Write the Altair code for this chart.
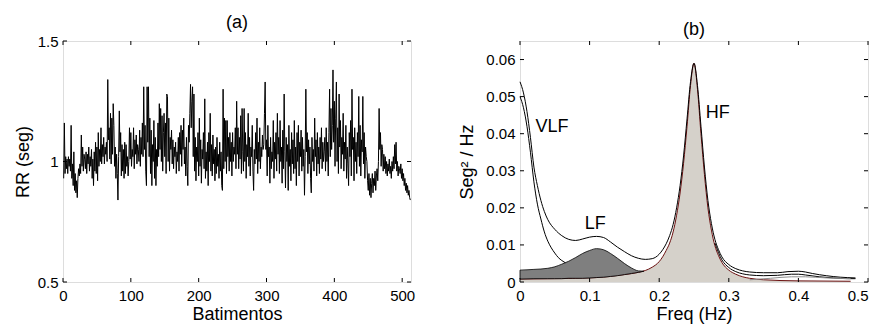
import altair as alt
import pandas as pd

FONT = "Liberation Sans"

# ---------------- panel (a): RR series ----------------
rr = [
    0.93, 1.16, 0.95, 1.02, 0.97, 1.01, 0.95, 1.02, 0.98, 1.01, 0.96, 1.15, 0.93, 0.99, 0.90, 1.04,
    0.88, 0.95, 0.87, 0.92, 0.85, 0.93, 0.97, 0.94, 0.99, 0.95, 1.11, 0.98, 1.06, 0.96, 1.03, 1.01,
    0.97, 1.04, 0.95, 1.03, 0.99, 1.06, 0.96, 1.02, 0.98, 1.05, 0.93, 1.01, 0.90, 1.04, 0.96, 1.08,
    0.95, 1.06, 0.92, 1.12, 0.98, 1.05, 1.00, 1.14, 0.99, 1.07, 1.02, 1.10, 0.99, 1.06, 1.03, 1.08,
    1.00, 1.34, 1.09, 1.14, 1.01, 1.20, 0.99, 1.18, 1.03, 1.24, 1.15, 0.98, 1.06, 0.93, 1.03, 0.95,
    0.84, 1.02, 1.21, 1.04, 1.12, 0.94, 1.07, 0.96, 1.05, 0.93, 1.08, 0.95, 1.07, 0.98, 1.02, 0.94,
    1.00, 1.14, 1.01, 1.12, 0.98, 1.05, 1.02, 1.14, 0.97, 1.09, 1.03, 1.11, 0.99, 1.07, 1.05, 1.00,
    1.13, 0.98, 1.10, 1.03, 1.16, 1.02, 1.31, 1.05, 1.15, 0.96, 0.90, 1.31, 1.08, 1.31, 1.02, 1.18,
    0.95, 1.13, 0.90, 1.07, 1.00, 1.17, 0.93, 1.10, 0.90, 1.05, 0.98, 1.16, 1.02, 1.24, 1.05, 1.22,
    1.00, 1.19, 0.96, 1.12, 1.20, 1.02, 1.16, 0.95, 1.28, 1.27, 1.00, 1.18, 0.96, 1.10, 1.05, 1.13,
    0.99, 1.09, 0.97, 1.06, 1.02, 1.08, 0.95, 1.04, 1.00, 1.10, 0.96, 1.12, 1.03, 1.15, 0.98, 1.13,
    1.05, 1.18, 0.99, 1.06, 0.94, 1.10, 0.98, 0.90, 1.15, 1.08, 1.20, 1.32, 1.14, 1.25, 1.31, 1.02,
    1.28, 0.96, 1.10, 0.92, 1.06, 1.00, 1.12, 0.94, 1.18, 0.98, 1.09, 0.91, 1.05, 1.01, 1.12, 0.97,
    1.26, 0.93, 1.04, 0.96, 1.08, 0.90, 1.12, 1.00, 1.20, 0.96, 1.07, 0.94, 1.11, 0.99, 1.05, 0.92,
    1.06, 0.95, 1.10, 0.98, 1.03, 0.93, 1.08, 0.96, 1.04, 0.90, 0.88, 1.30, 0.97, 1.18, 1.00, 1.17,
    0.95, 1.17, 1.02, 1.10, 0.96, 1.12, 1.00, 1.08, 0.94, 1.12, 1.00, 1.06, 1.03, 1.14, 0.97, 1.25,
    1.03, 1.14, 0.97, 1.10, 1.01, 1.19, 0.95, 1.22, 1.04, 0.96, 1.22, 1.00, 1.12, 0.93, 1.07, 1.02,
    1.20, 0.98, 1.10, 0.94, 1.06, 1.02, 1.15, 0.96, 0.88, 1.05, 0.99, 1.12, 1.01, 1.18, 0.95, 1.08,
    1.00, 1.14, 0.97, 1.06, 1.02, 1.11, 1.05, 1.07, 1.20, 1.33, 1.05, 1.09, 0.94, 1.15, 1.02, 1.06,
    0.91, 1.10, 0.97, 1.04, 1.00, 1.17, 0.93, 1.08, 1.01, 1.12, 0.96, 1.20, 1.03, 1.10, 0.95, 1.17,
    1.00, 1.06, 0.91, 1.13, 0.97, 1.28, 1.04, 0.89, 1.10, 1.00, 1.07, 0.88, 1.15, 0.98, 1.05, 0.92,
    1.12, 0.99, 1.09, 0.95, 1.17, 0.97, 1.06, 0.90, 1.12, 1.00, 1.15, 0.94, 1.08, 1.02, 1.13, 0.96,
    1.10, 0.98, 1.05, 0.86, 1.02, 1.30, 1.04, 1.12, 0.95, 1.09, 0.99, 1.06, 0.93, 0.87, 1.10, 1.00,
    1.05, 0.96, 1.18, 1.02, 1.09, 0.94, 1.12, 0.99, 1.06, 0.95, 1.10, 1.01, 1.14, 0.97, 1.08, 1.00,
    1.04, 1.10, 0.96, 1.14, 1.00, 1.08, 0.94, 1.12, 1.30, 1.02, 1.22, 1.05, 1.15, 1.38, 1.08, 1.25,
    0.98, 1.18, 1.33, 1.00, 1.14, 0.95, 1.28, 1.06, 1.17, 0.97, 1.10, 1.03, 1.20, 0.96, 1.08, 1.01,
    1.15, 0.93, 1.06, 0.99, 0.90, 1.12, 1.02, 1.17, 0.94, 1.30, 1.05, 1.10, 0.92, 1.14, 1.00, 1.08,
    0.95, 1.12, 1.02, 1.27, 0.98, 1.15, 0.94, 1.09, 1.04, 1.27, 0.99, 1.12, 0.93, 1.06, 1.02, 1.00,
    0.92, 0.88, 0.95, 0.86, 0.93, 0.85, 0.91, 0.95, 0.87, 0.93, 0.90, 0.96, 0.88, 0.94, 0.97, 0.92,
    1.00, 1.22, 1.05, 1.12, 0.98, 1.07, 1.05, 0.96, 1.03, 0.97, 1.02, 0.95, 1.00, 0.94, 0.99, 0.96,
    1.01, 0.95, 0.98, 0.93, 1.00, 0.96, 1.02, 0.97, 1.07, 0.99, 1.08, 0.96, 1.00, 0.94, 0.98, 0.97,
    0.95, 0.99, 0.93, 0.97, 0.92, 0.95, 0.90, 0.93, 0.88, 0.91, 0.87, 0.90, 0.86, 0.88, 0.85, 0.84,
]
beats = list(range(1, len(rr) + 1))
xticks_a = [0, 100, 200, 300, 400, 500]
yticks_a = [0.5, 1, 1.5]

# ---------------- panel (b): PSD ----------------
f_total = [0.000, 0.005, 0.010, 0.015, 0.020, 0.025, 0.030, 0.035, 0.040, 0.050, 0.060, 0.070,
           0.080, 0.090, 0.100, 0.110, 0.120, 0.130, 0.140, 0.150, 0.160, 0.170, 0.180, 0.190,
           0.200, 0.205, 0.210, 0.215, 0.220, 0.225, 0.230, 0.235, 0.240, 0.245, 0.250, 0.255,
           0.260, 0.265, 0.270, 0.275, 0.280, 0.285, 0.290, 0.300, 0.310, 0.320, 0.330, 0.350,
           0.370, 0.385, 0.400, 0.410, 0.420, 0.440, 0.460, 0.482]
p_total = [0.0540, 0.0510, 0.0460, 0.0390, 0.0310, 0.0260, 0.0220, 0.0190, 0.0168, 0.0142, 0.0125, 0.0115,
           0.0112, 0.0116, 0.0121, 0.0123, 0.0120, 0.0108, 0.0094, 0.0082, 0.0071, 0.0064, 0.0061, 0.0063,
           0.0075, 0.0087, 0.0103, 0.0125, 0.0155, 0.0200, 0.0260, 0.0340, 0.0440, 0.0540, 0.0590, 0.0530,
           0.0420, 0.0310, 0.0220, 0.0158, 0.0115, 0.0088, 0.0068, 0.0047, 0.0036, 0.0030, 0.0027, 0.0025,
           0.0025, 0.0028, 0.0029, 0.0027, 0.0023, 0.0017, 0.0013, 0.0011]

f_vlf = [0.000, 0.005, 0.010, 0.015, 0.020, 0.025, 0.030, 0.035, 0.040, 0.045, 0.050, 0.055, 0.060, 0.065]
p_vlf = [0.0500, 0.0470, 0.0420, 0.0350, 0.0270, 0.0210, 0.0170, 0.0135, 0.0110, 0.0092, 0.0078, 0.0066, 0.0058, 0.0052]

f_lf = [0.000, 0.020, 0.040, 0.050, 0.060, 0.070, 0.080, 0.090, 0.100, 0.110, 0.120, 0.130,
        0.140, 0.150, 0.160, 0.170, 0.178]
p_lf_top = [0.0032, 0.0034, 0.0037, 0.0041, 0.0048, 0.0056, 0.0066, 0.0077, 0.0085, 0.0090, 0.0087, 0.0077,
            0.0064, 0.0050, 0.0038, 0.0030, 0.0029]
p_lf_bottom = [0.0008, 0.0009, 0.0009, 0.0009, 0.0009, 0.0010, 0.0010, 0.0010, 0.0011, 0.0012, 0.0013, 0.0015,
               0.0017, 0.0020, 0.0023, 0.0026, 0.0029]

f_hf = [0.000, 0.050, 0.100, 0.130, 0.150, 0.170, 0.180, 0.190, 0.200, 0.205, 0.210, 0.215,
        0.220, 0.225, 0.230, 0.235, 0.240, 0.245, 0.250, 0.255, 0.260, 0.265, 0.270, 0.275,
        0.280, 0.285, 0.290, 0.300, 0.310, 0.320, 0.330, 0.350, 0.400, 0.475]
p_hf = [0.0008, 0.0009, 0.0011, 0.0015, 0.0020, 0.0026, 0.0031, 0.0040, 0.0055, 0.0068, 0.0085, 0.0105,
        0.0135, 0.0180, 0.0240, 0.0320, 0.0420, 0.0530, 0.0590, 0.0520, 0.0400, 0.0290, 0.0200, 0.0140,
        0.0098, 0.0072, 0.0053, 0.0032, 0.0021, 0.0014, 0.0010, 0.0006, 0.0003, 0.0002]

f_second = [0.280, 0.290, 0.300, 0.310, 0.320, 0.330, 0.350, 0.370, 0.390, 0.400, 0.410, 0.430, 0.450, 0.470, 0.482]
p_second = [0.0105, 0.0060, 0.0039, 0.0028, 0.0022, 0.0019, 0.0017, 0.0018, 0.0021, 0.0021, 0.0019, 0.0014, 0.0011, 0.0009, 0.0009]

f_gray = [0.330, 0.360, 0.390, 0.410, 0.440, 0.475]
p_gray = [0.0006, 0.0010, 0.0014, 0.0014, 0.0011, 0.0009]

band_labels = ["VLF", "LF", "HF"]
band_label_f = [0.046, 0.108, 0.284]
band_label_p = [0.0417, 0.0157, 0.0456]

xticks_b = [0, 0.1, 0.2, 0.3, 0.4, 0.5]
yticks_b = [0, 0.01, 0.02, 0.03, 0.04, 0.05, 0.06]

W, H = 348, 241
TL = 4  # inward tick length


def axis(title, values, **kw):
    return alt.Axis(title=title, values=values, ticks=False, domain=False, grid=False,
                    format="~r", labelFontSize=15, titleFontSize=18, labelColor="black",
                    titleColor="black", labelFont=FONT, titleFont=FONT, titleFontWeight="normal",
                    labelFlush=False, labelOverlap=False, **kw)


def inward_ticks(xvals, yvals, xfield, yfield, xs, ys):
    dx = pd.DataFrame({xfield: xvals})
    dy = pd.DataFrame({yfield: yvals})
    bottom = alt.Chart(dx).mark_rule(color="black", strokeWidth=1).encode(
        x=alt.X(f"{xfield}:Q", scale=xs), y=alt.value(H), y2=alt.value(H - TL))
    top = alt.Chart(dx).mark_rule(color="black", strokeWidth=1).encode(
        x=alt.X(f"{xfield}:Q", scale=xs), y=alt.value(0), y2=alt.value(TL))
    left = alt.Chart(dy).mark_rule(color="black", strokeWidth=1).encode(
        y=alt.Y(f"{yfield}:Q", scale=ys), x=alt.value(0), x2=alt.value(TL))
    right = alt.Chart(dy).mark_rule(color="black", strokeWidth=1).encode(
        y=alt.Y(f"{yfield}:Q", scale=ys), x=alt.value(W), x2=alt.value(W - TL))
    return [bottom, top, left, right]


# ----- panel (a)
xs_a = alt.Scale(domain=[0, 513], nice=False, zero=False)
ys_a = alt.Scale(domain=[0.5, 1.5], nice=False, zero=False)
df_rr = pd.DataFrame({"beat": beats, "rr": rr})
line_a = alt.Chart(df_rr).mark_line(color="black", strokeWidth=1, clip=True).encode(
    x=alt.X("beat:Q", scale=xs_a, axis=axis("Batimentos", xticks_a, labelPadding=6, titlePadding=2)),
    y=alt.Y("rr:Q", scale=ys_a, axis=axis("RR (seg)", yticks_a, labelPadding=5, titlePadding=5)),
)
panel_a = alt.layer(line_a, *inward_ticks(xticks_a, yticks_a, "beat", "rr", xs_a, ys_a)).properties(
    width=W, height=H,
    title=alt.TitleParams("(a)", fontSize=18, font=FONT, fontWeight="normal", color="black", offset=2),
)

# ----- panel (b)
xs_b = alt.Scale(domain=[0, 0.5], nice=False, zero=False)
ys_b = alt.Scale(domain=[0, 0.065], nice=False, zero=False)

df_hf = pd.DataFrame({"f": f_hf, "p": p_hf})
df_lf = pd.DataFrame({"f": f_lf, "p": p_lf_top, "bottom": p_lf_bottom})
df_tot = pd.DataFrame({"f": f_total, "p": p_total})
df_vlf = pd.DataFrame({"f": f_vlf, "p": p_vlf})
df_sec = pd.DataFrame({"f": f_second, "p": p_second})
df_gray = pd.DataFrame({"f": f_gray, "p": p_gray})
df_lab = pd.DataFrame({"label": band_labels, "f": band_label_f, "p": band_label_p})

X = alt.X("f:Q", scale=xs_b)
Y = alt.Y("p:Q", scale=ys_b)

last_right = {"condition": {"test": "datum.value >= 0.5", "value": "right"}, "value": "center"}

hf_area = alt.Chart(df_hf).mark_area(color="#d5d1ca", interpolate="monotone").encode(
    x=alt.X("f:Q", scale=xs_b, axis=axis("Freq (Hz)", xticks_b, labelPadding=6, titlePadding=2,
                                         labelAlign=last_right)),
    y=alt.Y("p:Q", scale=ys_b, axis=axis("Seg² / Hz", yticks_b, labelPadding=5, titlePadding=9)),
)
hf_edge = alt.Chart(df_hf).mark_line(color="#6b1010", strokeWidth=1, interpolate="monotone").encode(x=X, y=Y)
lf_area = alt.Chart(df_lf).mark_area(color="#7f7f7f", stroke="black", strokeWidth=0.8,
                                     interpolate="monotone").encode(x=X, y=Y, y2="bottom:Q")
tot_line = alt.Chart(df_tot).mark_line(color="black", strokeWidth=1, interpolate="monotone").encode(x=X, y=Y)
vlf_line = alt.Chart(df_vlf).mark_line(color="black", strokeWidth=1, interpolate="monotone").encode(x=X, y=Y)
sec_line = alt.Chart(df_sec).mark_line(color="black", strokeWidth=1, interpolate="monotone").encode(x=X, y=Y)
gray_line = alt.Chart(df_gray).mark_line(color="#8c8c8c", strokeWidth=1, interpolate="monotone").encode(x=X, y=Y)
labels = alt.Chart(df_lab).mark_text(font=FONT, fontSize=18, color="black", align="center",
                                     baseline="middle").encode(x=X, y=Y, text="label:N")

panel_b = alt.layer(hf_area, hf_edge, lf_area, tot_line, vlf_line, sec_line, gray_line, labels,
                    *inward_ticks(xticks_b, yticks_b, "f", "p", xs_b, ys_b)).properties(
    width=W, height=H,
    title=alt.TitleParams("(b)", fontSize=18, font=FONT, fontWeight="normal", color="black", offset=2),
)

chart = alt.hconcat(panel_a, panel_b, spacing=42).properties(
    padding={"left": 5, "top": 5, "right": 0, "bottom": 0}
).configure_view(
    stroke="black", strokeWidth=1
).configure(font=FONT, background="white")

chart.save("out.html", embed_options={"renderer": "svg", "actions": False})
